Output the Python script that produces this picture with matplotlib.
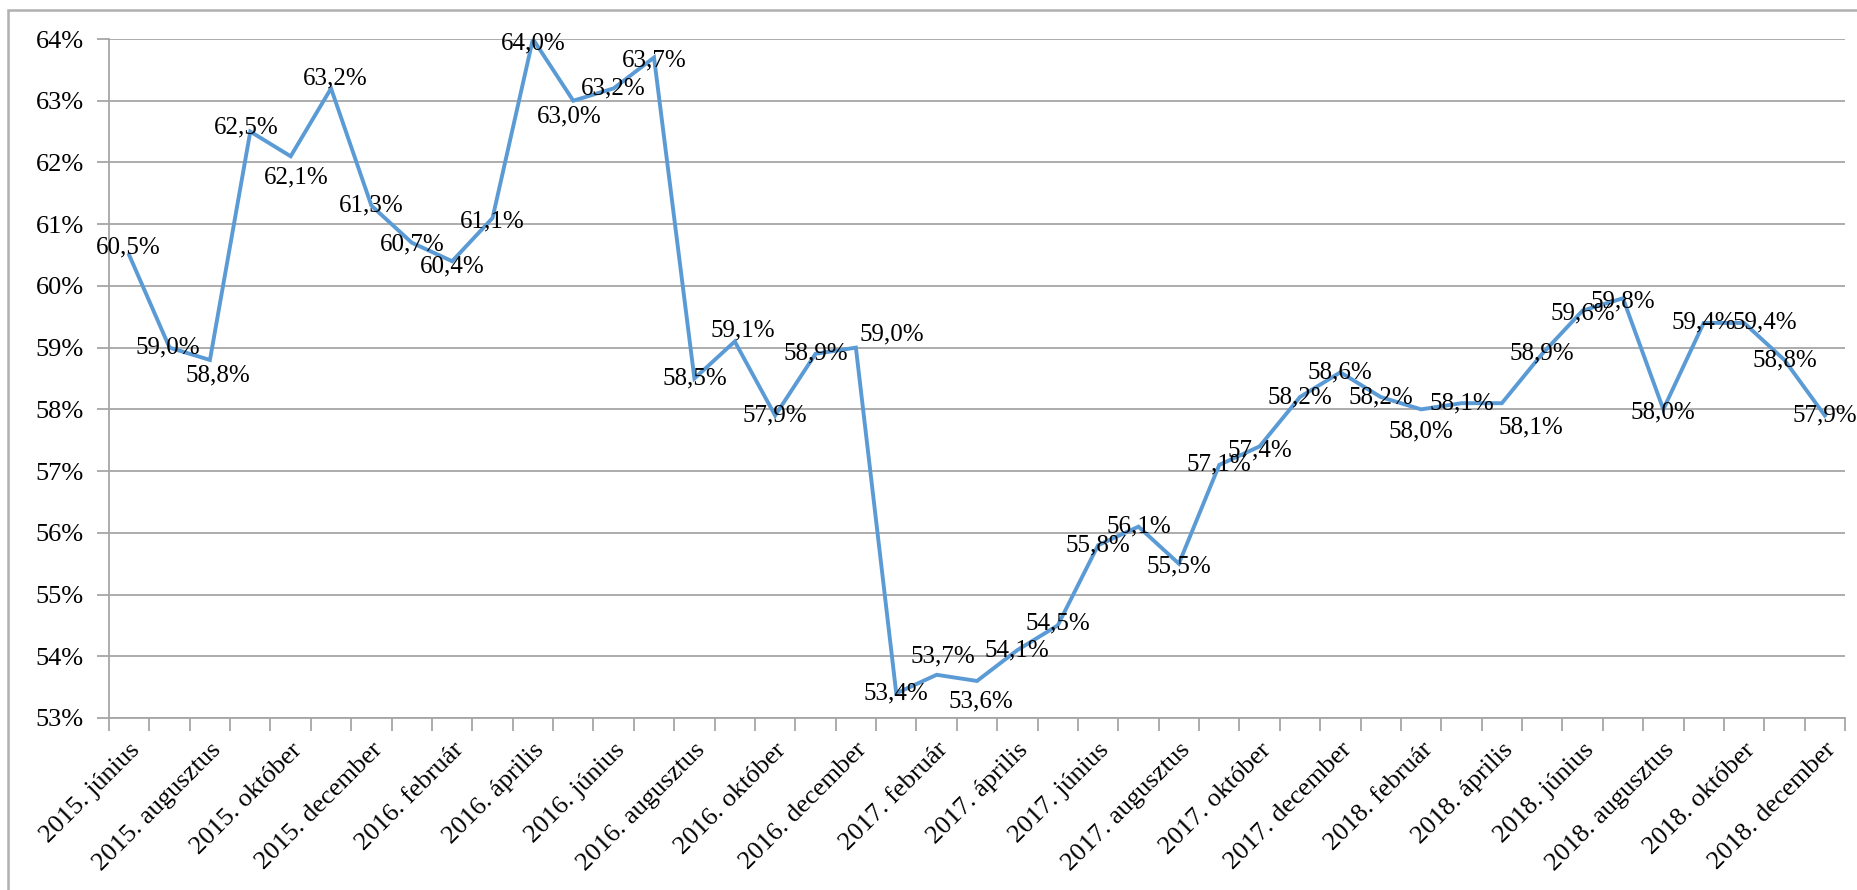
import matplotlib
matplotlib.use("Agg")
import matplotlib.pyplot as plt
from matplotlib.patches import Rectangle

# monthly categories 2015 june .. 2018 december
months = ["január", "február", "március", "április", "május", "június",
          "július", "augusztus", "szeptember", "október", "november", "december"]
categories = ([f"2015. {m}" for m in months[5:]] +
              [f"2016. {m}" for m in months] +
              [f"2017. {m}" for m in months] +
              [f"2018. {m}" for m in months])

values = [60.5, 59.0, 58.8, 62.5, 62.1, 63.2, 61.3,
          60.7, 60.4, 61.1, 64.0, 63.0, 63.2, 63.7, 58.5, 59.1, 57.9, 58.9, 59.0,
          53.4, 53.7, 53.6, 54.1, 54.5, 55.8, 56.1, 55.5, 57.1, 57.4, 58.2, 58.6,
          58.2, 58.0, 58.1, 58.1, 58.9, 59.6, 59.8, 58.0, 59.4, 59.4, 58.8, 57.9]

y_ticks = list(range(53, 65))

# label nudges in pixels (dx, dy down)
label_shift = [(-1, -8), (-2, 0), (8, 15), (-4, -4), (6, 21), (4, -10), (0, 0),
               (0, 2), (0, 5), (0, 3), (0, 4), (-4, 16), (0, 0), (0, 3), (0, 0),
               (8, -11), (0, 0), (0, 0), (36, -13), (0, 0), (6, -18), (4, 20),
               (0, 0), (0, -2), (0, 0), (0, 0), (0, 3), (0, 0), (0, 4), (0, 0),
               (0, 0), (0, 0), (0, 22), (0, 0), (29, 24), (0, 0), (0, 3), (0, 3),
               (0, 3), (0, 0), (21, 0), (0, 0), (0, 0)]

plt.rcParams['font.family'] = ['Liberation Serif', 'DejaVu Serif']
W, H = 1858, 890
fig = plt.figure(figsize=(W / 100, H / 100), dpi=100)
ax = fig.add_axes([109 / W, 1 - 718 / H, (1845 - 109) / W, (718 - 39) / H])

grid_c = "#a6a6a6"
n = len(values)
xs = [i + 0.5 for i in range(n)]
ax.plot(xs, values, color="#5b9bd5", lw=2.8, solid_joinstyle="miter", zorder=3)

for x, v, (dx, dy) in zip(xs, values, label_shift):
    ax.annotate(f"{v:.1f}%".replace(".", ","), (x, v), xytext=(dx, -dy),
                textcoords="offset pixels", ha="center", va="center",
                fontsize=18, color="black", annotation_clip=False, zorder=4)

ax.set_xlim(0, n)
ax.set_ylim(53, 64)
ax.set_yticks(y_ticks)
ax.set_yticklabels([f"{t}%" for t in y_ticks], fontsize=19)
ax.yaxis.grid(True, color=grid_c, lw=1.3)
ax.set_axisbelow(True)

ax.set_xticks(range(n + 1))
ax.set_xticklabels([])
ax.set_xticks(xs[::2], minor=True)
ax.set_xticklabels(categories[::2], minor=True, rotation=45, ha="right",
                   va="top", rotation_mode="anchor", fontsize=19)
ax.tick_params(axis="x", which="major", length=9, width=1.3, color=grid_c)
ax.tick_params(axis="x", which="minor", length=0, pad=15)
ax.tick_params(axis="y", length=9, width=1.3, color=grid_c, pad=9)

for s in ["top", "right"]:
    ax.spines[s].set_visible(False)
for s in ["left", "bottom"]:
    ax.spines[s].set_color(grid_c)
    ax.spines[s].set_linewidth(1.3)

# chart area border (runs off the right and bottom edges)
fig.patches.append(Rectangle((8 / W, -0.1), 1.2, 1.1 - 10 / H, transform=fig.transFigure,
                             fill=False, edgecolor="#b0b0b0", lw=1.8))

fig.savefig("out.png", dpi=100)
